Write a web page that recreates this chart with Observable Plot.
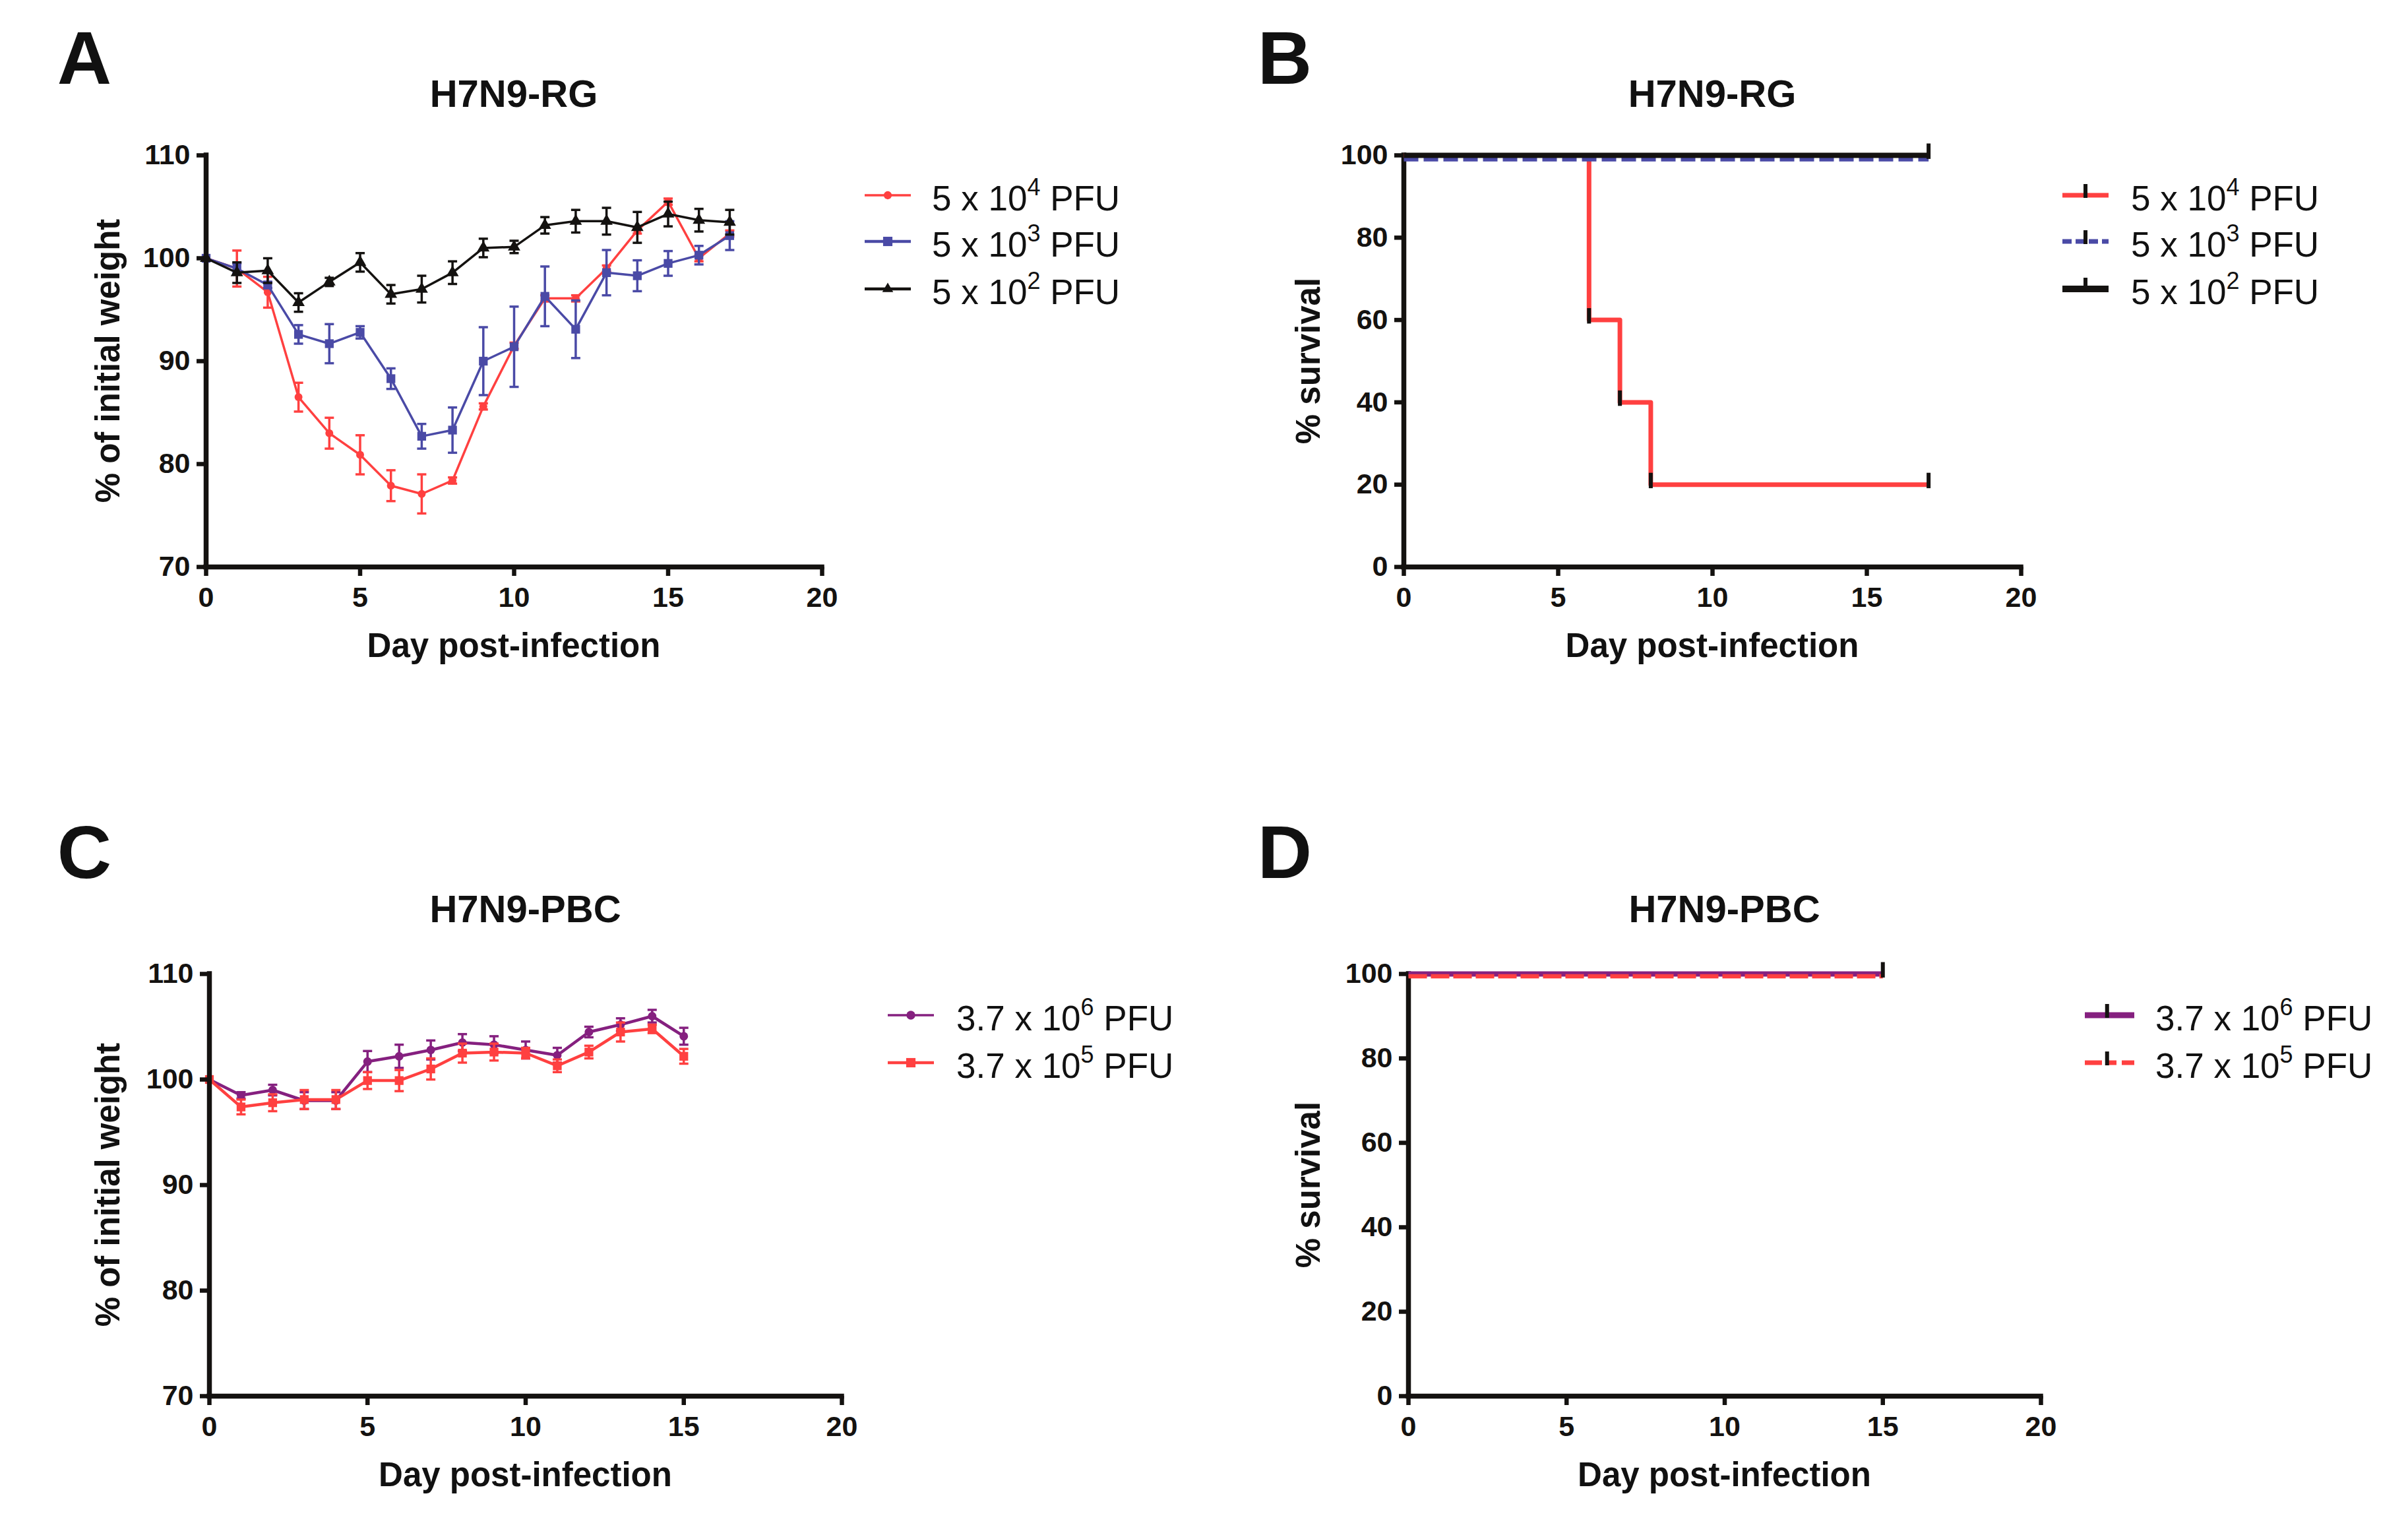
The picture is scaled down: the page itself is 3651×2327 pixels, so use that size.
<!DOCTYPE html>
<html>
<head>
<meta charset="utf-8">
<script src="https://cdn.jsdelivr.net/npm/d3@7"></script>
<script src="https://cdn.jsdelivr.net/npm/@observablehq/plot@0.6"></script>
<style>
  html, body { margin: 0; padding: 0; background: #fff; }
  #page { position: relative; width: 3651px; height: 2327px; overflow: hidden;
          font-family: "Liberation Sans", Arial, sans-serif; color: #111; }
  .abs { position: absolute; white-space: nowrap; }
  .center { transform: translate(-50%, -50%); }
  .letter { font-weight: bold; font-size: 114px; line-height: 1; }
  .title { font-weight: bold; font-size: 58px; line-height: 1; }
  .xlabel { font-weight: bold; font-size: 51px; line-height: 1; }
  .ylabel { font-weight: bold; font-size: 51px; line-height: 1; transform: translate(-50%, -50%) rotate(-90deg); }
  .legtext { font-size: 53px; line-height: 1; transform: translateY(-50%); }
  .legtext sup { font-size: 36px; vertical-align: 23px; line-height: 0; }
  .sw { position: absolute; transform: translateY(-50%); overflow: visible; }
</style>
</head>
<body>
<div id="page"></div>
<script>
// ---------------- DATA ----------------
const daysRG = [0,1,2,3,4,5,6,7,8,9,10,11,12,13,14,15,16,17];
const rg5e4Mean = [100,99.0,96.7,86.5,83.0,80.9,77.9,77.1,78.4,85.6,91.5,96.1,96.1,99.0,102.7,105.5,100.0,102.4];
const rg5e4Sem  = [0,1.75,1.5,1.4,1.5,1.9,1.5,1.9,0.3,0.3,0.3,0.3,0.3,0.3,0.3,0.3,0.3,0.3];
const rg5e3Mean = [100,99.0,97.4,92.6,91.7,92.8,88.3,82.7,83.3,90.0,91.4,96.3,93.1,98.6,98.3,99.5,100.3,102.2];
const rg5e3Sem  = [0,0.5,0.3,0.9,1.9,0.6,1.0,1.2,2.2,3.3,3.9,2.9,2.8,2.2,1.5,1.2,0.9,1.4];
const rg5e2Mean = [100,98.6,98.8,95.7,97.7,99.6,96.5,97.0,98.6,101.0,101.1,103.2,103.6,103.6,103.0,104.3,103.7,103.5];
const rg5e2Sem  = [0,1.0,1.2,0.9,0.4,0.9,0.9,1.3,1.1,0.9,0.6,0.8,1.1,1.3,1.5,1.2,1.1,1.2];

const daysPBC = [0,1,2,3,4,5,6,7,8,9,10,11,12,13,14,15];
const pbc37e6Mean = [100,98.5,99.0,98.0,98.0,101.7,102.2,102.8,103.5,103.3,102.8,102.3,104.5,105.2,106.0,104.1];
const pbc37e6Sem  = [0,0.3,0.5,0.8,0.8,1.0,1.1,0.9,0.8,0.8,0.8,0.7,0.5,0.6,0.6,0.8];
const pbc37e5Mean = [100,97.4,97.8,98.1,98.1,99.9,99.9,101.0,102.5,102.6,102.5,101.3,102.6,104.5,104.8,102.2];
const pbc37e5Sem  = [0,0.7,0.8,0.9,0.9,0.8,1.0,1.0,0.9,0.8,0.5,0.6,0.6,0.9,0.4,0.7];

// survival (Kaplan-Meier steps)
const survRG5e4Days = [0,6,7,8,17];
const survRG5e4Pct  = [100,60,40,20,20];
const survRG5e3Days = [0,17];
const survRG5e3Pct  = [100,100];
const survRG5e2Days = [0,17];
const survRG5e2Pct  = [100,100];
const censorRG5e4Days = [6,7,8,17];
const censorRG5e4Pct  = [60,40,20,20];
const censorRG5e2Days = [17];
const censorRG5e2Pct  = [100];

const survPBC37e6Days = [0,15];
const survPBC37e6Pct  = [100,100];
const survPBC37e5Days = [0,15];
const survPBC37e5Pct  = [100,100];
const censorPBCDays = [15];
const censorPBCPct  = [100];

const xTicks = [0,5,10,15,20];
const weightTicks = [70,80,90,100,110];
const survTicks = [0,20,40,60,80,100];

const labelsRG = ["5 x 10<sup>4</sup> PFU","5 x 10<sup>3</sup> PFU","5 x 10<sup>2</sup> PFU"];
const labelsPBC = ["3.7 x 10<sup>6</sup> PFU","3.7 x 10<sup>5</sup> PFU"];

// ---------------- STYLE ----------------
const RED = "#ff4040", BLUE = "#4a4aa6", BLACK = "#141210", PURPLE = "#85207f";
const FONT = "'Liberation Sans', Arial, sans-serif";

const hcap = { draw(ctx, size) { const w = Math.sqrt(size / Math.PI); ctx.moveTo(-w, 0); ctx.lineTo(w, 0); } };
const vtick = { draw(ctx, size) { const h = Math.sqrt(size / Math.PI); ctx.moveTo(0, -h); ctx.lineTo(0, 0.3 * h); } };

const zip = (xs, ys, es) => xs.map((x, i) => ({x, y: ys[i], e: es ? es[i] : 0}));

const page = document.getElementById("page");
function el(cls, html, left, top) {
  const d = document.createElement("div");
  d.className = "abs " + cls;
  d.innerHTML = html;
  d.style.left = left + "px"; d.style.top = top + "px";
  page.appendChild(d);
  return d;
}

const ML = 170, MT = 80, MR = 60, MB = 110;
function place(plot, box) {
  plot.style.position = "absolute";
  plot.style.left = (box.x0 - ML) + "px";
  plot.style.top = (box.y0 - MT) + "px";
  page.appendChild(plot);
}

function axes(yTicks, yMin) {
  return [
    Plot.axisX({ticks: xTicks, tickSize: 14, tickPadding: 16, strokeWidth: 6.5, fontSize: 43, fontWeight: "bold", label: null}),
    Plot.axisY({ticks: yTicks, tickSize: 14, tickPadding: 10, strokeWidth: 6.5, fontSize: 43, fontWeight: "bold", label: null}),
    Plot.ruleX([0], {strokeWidth: 7.5, stroke: BLACK, strokeLinecap: "square"}),
    Plot.ruleY([yMin], {strokeWidth: 7.5, stroke: BLACK, strokeLinecap: "square"})
  ];
}

function weightSeries(data, color, symbol, r, sw) {
  return [
    Plot.ruleX(data.filter(d => d.e > 0), {x: "x", y1: d => d.y - d.e, y2: d => d.y + d.e, stroke: color, strokeWidth: 3.5}),
    Plot.dot(data.filter(d => d.e > 0), {x: "x", y: d => d.y + d.e, symbol: hcap, r: 7, stroke: color, strokeWidth: 3.5}),
    Plot.dot(data.filter(d => d.e > 0), {x: "x", y: d => d.y - d.e, symbol: hcap, r: 7, stroke: color, strokeWidth: 3.5}),
    Plot.line(data, {x: "x", y: "y", stroke: color, strokeWidth: sw}),
    Plot.dot(data, {x: "x", y: "y", symbol, r, fill: color, stroke: "none"})
  ];
}

function weightPlot(box, seriesMarks) {
  return Plot.plot({
    width: (box.x1 - box.x0) + ML + MR,
    height: (box.y1 - box.y0) + MT + MB,
    marginLeft: ML, marginRight: MR, marginTop: MT, marginBottom: MB,
    x: {domain: [0, 20]},
    y: {domain: [70, 110]},
    style: {background: "none", overflow: "visible", fontFamily: FONT, color: BLACK},
    marks: [...seriesMarks, ...axes(weightTicks, 70)]
  });
}

function survPlot(box, seriesMarks) {
  return Plot.plot({
    width: (box.x1 - box.x0) + ML + MR,
    height: (box.y1 - box.y0) + MT + MB,
    marginLeft: ML, marginRight: MR, marginTop: MT, marginBottom: MB,
    x: {domain: [0, 20]},
    y: {domain: [0, 100]},
    style: {background: "none", overflow: "visible", fontFamily: FONT, color: BLACK},
    marks: [...axes(survTicks, 0), ...seriesMarks]
  });
}

function survLine(xs, ys, color, sw, dash, dy) {
  return Plot.line(zip(xs, ys), {x: "x", y: "y", curve: "step-after", stroke: color, strokeWidth: sw,
    strokeDasharray: dash || null, dy: dy || 0, strokeLinecap: "butt"});
}
function censor(xs, ys) {
  return Plot.dot(zip(xs, ys), {x: "x", y: "y", symbol: vtick, r: 18, stroke: BLACK, strokeWidth: 6});
}

// ---------------- PANELS ----------------
const boxA = {x0: 312, x1: 1246, y0: 235, y1: 859};
const boxB = {x0: 2128, x1: 3064, y0: 235, y1: 859};
const boxC = {x0: 317, x1: 1276, y0: 1476, y1: 2116};
const boxD = {x0: 2135, x1: 3094, y0: 1476, y1: 2116};

place(weightPlot(boxA, [
  ...weightSeries(zip(daysRG, rg5e4Mean, rg5e4Sem), RED, "circle", 6, 3.5),
  ...weightSeries(zip(daysRG, rg5e3Mean, rg5e3Sem), BLUE, "square", 7.5, 3.5),
  ...weightSeries(zip(daysRG, rg5e2Mean, rg5e2Sem), BLACK, "triangle", 7, 3.5)
]), boxA);

place(survPlot(boxB, [
  survLine(survRG5e4Days, survRG5e4Pct, RED, 7),
  survLine(survRG5e3Days, survRG5e3Pct, BLUE, 6.5, "22 8", 6),
  survLine(survRG5e2Days, survRG5e2Pct, BLACK, 8),
  censor(censorRG5e4Days, censorRG5e4Pct),
  censor(censorRG5e2Days, censorRG5e2Pct)
]), boxB);

place(weightPlot(boxC, [
  ...weightSeries(zip(daysPBC, pbc37e6Mean, pbc37e6Sem), PURPLE, "circle", 6.5, 4.5),
  ...weightSeries(zip(daysPBC, pbc37e5Mean, pbc37e5Sem), RED, "square", 7.5, 4.5)
]), boxC);

place(survPlot(boxD, [
  survLine(survPBC37e6Days, survPBC37e6Pct, PURPLE, 8),
  survLine(survPBC37e5Days, survPBC37e5Pct, RED, 6.5, "28 6", 3.5),
  censor(censorPBCDays, censorPBCPct)
]), boxD);

// ---------------- TEXT ----------------
const mid = b => (b.x0 + b.x1) / 2, vmid = b => (b.y0 + b.y1) / 2;
[["A", 128, 88], ["B", 1948, 88], ["C", 128, 1292], ["D", 1948, 1292]].forEach(([t, x, y]) =>
  el("letter center", t, x, y));
el("title center", "H7N9-RG", mid(boxA), 142);
el("title center", "H7N9-RG", mid(boxB), 142);
el("title center", "H7N9-PBC", mid(boxC), 1378);
el("title center", "H7N9-PBC", mid(boxD), 1378);
[boxA, boxB, boxC, boxD].forEach(b => el("xlabel center", "Day post-infection", mid(b), b.y1 + 119));
el("ylabel", "% of initial weight", 163, vmid(boxA));
el("ylabel", "% survival", 1983, vmid(boxB));
el("ylabel", "% of initial weight", 163, vmid(boxC));
el("ylabel", "% survival", 1983, vmid(boxD));

// ---------------- LEGENDS ----------------
function swatch(left, top, w, spec) {
  const s = d3.create("svg").attr("class", "sw").attr("width", w).attr("height", 40)
    .style("left", left + "px").style("top", top + "px");
  const cy = 20;
  s.append("line").attr("x1", 0).attr("x2", w).attr("y1", cy).attr("y2", cy)
    .attr("stroke", spec.color).attr("stroke-width", spec.sw)
    .attr("stroke-dasharray", spec.dash || null);
  if (spec.symbol) {
    s.append("path").attr("transform", `translate(${w / 2},${cy})`)
      .attr("d", d3.symbol(spec.symbol, spec.size)()).attr("fill", spec.color);
  }
  if (spec.tick) {
    const tx = w * spec.tick;
    s.append("line").attr("x1", tx).attr("x2", tx).attr("y1", cy - 17).attr("y2", cy + 4)
      .attr("stroke", BLACK).attr("stroke-width", 6);
  }
  page.appendChild(s.node());
}
function legend(rows, swLeft, swW, textLeft, specs, labels) {
  rows.forEach((y, i) => {
    swatch(swLeft, y, swW, specs[i]);
    el("legtext", labels[i], textLeft, y + 4);
  });
}
legend([296, 366, 438], 1311, 70, 1413, [
  {color: RED, sw: 3.5, symbol: d3.symbolCircle, size: 120},
  {color: BLUE, sw: 4.5, symbol: d3.symbolSquare, size: 200},
  {color: BLACK, sw: 4.5, symbol: d3.symbolTriangle, size: 120}
], labelsRG);
legend([296, 366, 438], 3127, 70, 3231, [
  {color: RED, sw: 7, tick: 0.5},
  {color: BLUE, sw: 7, dash: "14 6", tick: 0.5},
  {color: BLACK, sw: 10, tick: 0.5}
], labelsRG);
legend([1539, 1611], 1346, 70, 1450, [
  {color: PURPLE, sw: 3.5, symbol: d3.symbolCircle, size: 140},
  {color: RED, sw: 4.5, symbol: d3.symbolSquare, size: 200}
], labelsPBC);
legend([1539, 1611], 3161, 75, 3268, [
  {color: PURPLE, sw: 9, tick: 0.45},
  {color: RED, sw: 7, dash: "26 8 14 8", tick: 0.45}
], labelsPBC);
</script>
</body>
</html>
